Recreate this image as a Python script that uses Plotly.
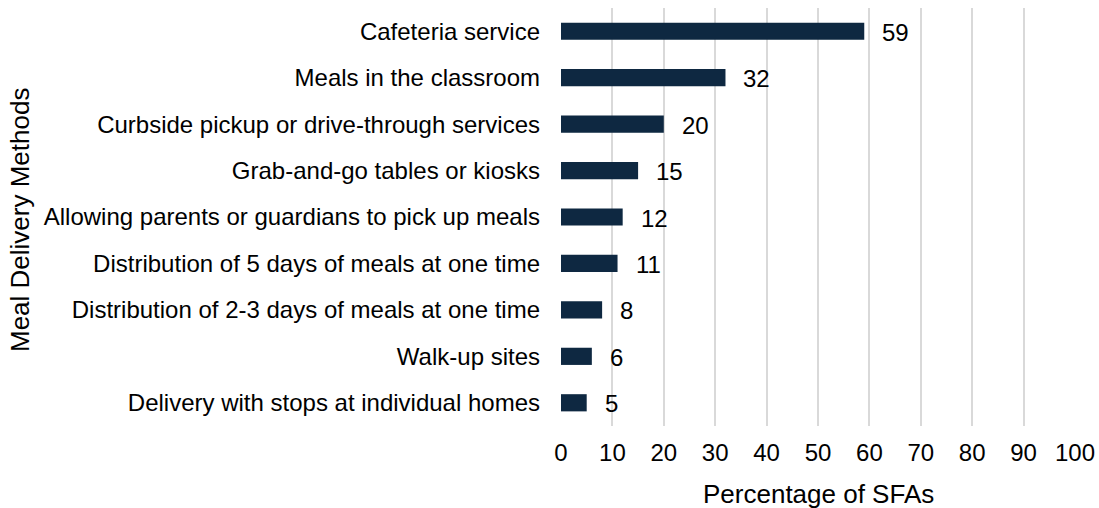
import plotly.graph_objects as go

categories = [
    "Cafeteria service",
    "Meals in the classroom",
    "Curbside pickup or drive-through services",
    "Grab-and-go tables or kiosks",
    "Allowing parents or guardians to pick up meals",
    "Distribution of 5 days of meals at one time",
    "Distribution of 2-3 days of meals at one time",
    "Walk-up sites",
    "Delivery with stops at individual homes",
]
values = [59, 32, 20, 15, 12, 11, 8, 6, 5]
x_ticks = [0, 10, 20, 30, 40, 50, 60, 70, 80, 90, 100]

FONT = "Liberation Sans, Arial, sans-serif"
BAR = "#0E2841"
TXT = "#000000"

fig = go.Figure(go.Bar(
    x=values, y=categories, orientation="h",
    marker=dict(color=BAR, line=dict(width=0)),
))

for v, c in zip(values, categories):
    fig.add_annotation(x=v, y=c, text=str(v), xanchor="left", yanchor="middle",
                       xshift=16, yshift=-1, showarrow=False,
                       font=dict(family=FONT, size=24, color=TXT))

L, R, T, B = 561, 1099 - 1075, 8, 508 - 426
pw = 1099 - L - R
fig.add_annotation(x=(20 - L) / pw, y=0.5, xref="paper", yref="paper",
                   text="Meal Delivery Methods", textangle=-90, showarrow=False,
                   xanchor="center", yanchor="middle", yshift=-3,
                   font=dict(family=FONT, size=26, color=TXT))
fig.add_annotation(x=(818 - L) / pw, y=0, xref="paper", yref="paper",
                   text="Percentage of SFAs", showarrow=False,
                   xanchor="center", yanchor="middle", yshift=-(494 - 426),
                   font=dict(family=FONT, size=26, color=TXT))

fig.update_layout(
    width=1099, height=508,
    margin=dict(l=L, r=R, t=T, b=B, autoexpand=False),
    plot_bgcolor="white", paper_bgcolor="white",
    bargap=0.63, showlegend=False,
    font=dict(family=FONT, size=24, color=TXT),
)
fig.update_xaxes(range=[0, 100], tickvals=x_ticks, ticktext=[str(t) for t in x_ticks],
                 showgrid=True, gridcolor="#D9D9D9", gridwidth=2,
                 zeroline=False, showline=False, ticks="",
                 ticklabelstandoff=10,
                 tickfont=dict(family=FONT, size=24, color=TXT))
fig.update_yaxes(autorange="reversed", categoryorder="array", categoryarray=categories,
                 showgrid=False, zeroline=False, showline=False, ticks="",
                 ticklabelstandoff=20,
                 tickfont=dict(family=FONT, size=24, color=TXT))

fig.write_html("out.html")
